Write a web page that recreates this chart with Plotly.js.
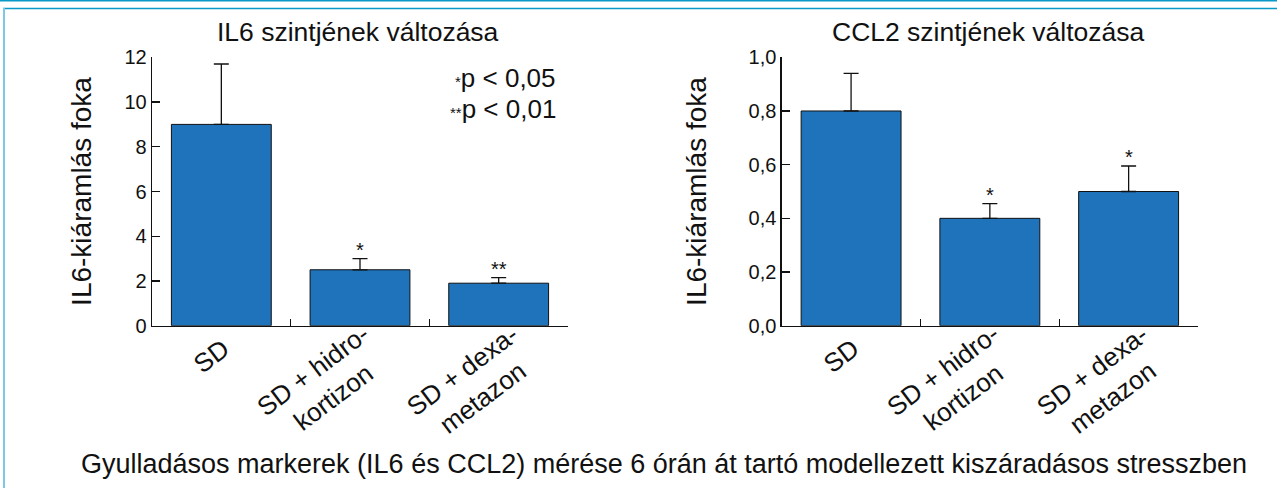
<!DOCTYPE html>
<html>
<head>
<meta charset="utf-8">
<script src="https://cdn.plot.ly/plotly-3.0.1.min.js"></script>
<style>
  html, body { margin: 0; padding: 0; background: #ffffff; }
  #chart { width: 1277px; height: 488px; }
</style>
</head>
<body>
<div id="chart"></div>
<script>
// ---- data ----
const categories = ["SD", "SD + hidro-<br>kortizon", "SD + dexa-<br>metazon"];
const il6Values = [9.0, 2.5, 1.9];
const il6Errors = [2.7, 0.5, 0.25];
const il6Signif = ["", "*", "**"];
const ccl2Values = [0.80, 0.40, 0.50];
const ccl2Errors = [0.14, 0.055, 0.095];
const ccl2Signif = ["", "*", "*"];
const il6Ticks = [0, 2, 4, 6, 8, 10, 12];
const ccl2Ticks = [0, 0.2, 0.4, 0.6, 0.8, 1.0];
const panelTitles = ["IL6 szintjének változása", "CCL2 szintjének változása"];
const yTitle = "IL6-kiáramlás foka";
const footerText = "Gyulladásos markerek (IL6 és CCL2) mérése 6 órán át tartó modellezett kiszáradásos stresszben";
const legendMarks = ["*", "**"];
const legendTexts = ["p < 0,05", "p < 0,01"];

// ---- styling ----
const W = 1277, H = 488;
const FONT = "'Liberation Sans Narrow', 'Liberation Sans', Arial, sans-serif";
const FONT_REG = "'Liberation Sans', Arial, sans-serif";
const BAR_COLOR = "#1f73bb";
const INK = "#111111";
const px = v => v / W;
const py = v => 1 - v / H;

const catIdx = [0, 1, 2];

function barTrace(vals, errs, xa, ya) {
  return {
    type: "bar",
    x: catIdx, y: vals,
    xaxis: xa, yaxis: ya,
    marker: { color: BAR_COLOR, line: { color: INK, width: 1 } },
    error_y: { type: "data", array: errs, arrayminus: errs.map(() => 0), symmetric: false,
               color: INK, thickness: 1.3, width: 7.5 },
    hoverinfo: "skip",
    showlegend: false
  };
}

const data = [
  barTrace(il6Values, il6Errors, "x", "y"),
  barTrace(ccl2Values, ccl2Errors, "x2", "y2")
];

const yDomain = [py(325.7), py(57.3)];

function xAxis(dom, anchor) {
  return {
    domain: dom, range: [-0.5, 2.5], type: "linear", anchor: anchor,
    showgrid: false, zeroline: false, showline: true, linecolor: INK, linewidth: 1.3,
    tickmode: "array", tickvals: [-0.5, 0.5, 1.5, 2.5], ticks: "inside", ticklen: 7,
    tickcolor: INK, tickwidth: 1.3, showticklabels: false, fixedrange: true
  };
}
function yAxis(range, tickvals, fmt, anchor, standoff) {
  return {
    domain: yDomain, range: range, anchor: anchor,
    showgrid: false, zeroline: false, showline: true, linecolor: INK, linewidth: 1.3,
    tickmode: "array", tickvals: tickvals, tickformat: fmt,
    ticks: "inside", ticklen: 8, tickcolor: INK, tickwidth: 1.3,
    tickfont: { family: FONT_REG, size: 20, color: INK },
    title: { text: yTitle, font: { family: FONT, size: 28, color: INK }, standoff: standoff },
    automargin: false, fixedrange: true
  };
}

const annotations = [];
// category labels
const labelShift = [[-10, -30], [-37, -58], [-26, -58]];
["x", "x2"].forEach(xa => {
  categories.forEach((c, i) => {
    annotations.push({
      xref: xa, yref: "paper", x: catIdx[i], y: yDomain[0],
      text: c, showarrow: false, textangle: -37,
      xanchor: "center", yanchor: "middle", align: "center",
      xshift: labelShift[i][0], yshift: labelShift[i][1],
      font: { family: FONT, size: 26, color: INK }
    });
  });
});
// significance markers
[[il6Values, il6Errors, il6Signif, "x", "y"], [ccl2Values, ccl2Errors, ccl2Signif, "x2", "y2"]].forEach(([v, e, s, xa, ya]) => {
  s.forEach((t, i) => {
    if (!t) return;
    annotations.push({
      xref: xa, yref: ya, x: catIdx[i], y: v[i] + e[i], text: t, showarrow: false,
      yanchor: "middle", yshift: 9,
      font: { family: FONT_REG, size: 20, color: INK }
    });
  });
});
// panel titles
const titleX = [358, 988];
panelTitles.forEach((t, i) => {
  annotations.push({ xref: "paper", yref: "paper", x: px(titleX[i]), y: py(32), text: t,
    showarrow: false, xanchor: "center", yanchor: "middle",
    font: { family: FONT, size: 26.5, color: INK } });
});
// p-value legend
const legendY = [78, 109];
legendTexts.forEach((t, i) => {
  annotations.push({ xref: "paper", yref: "paper", x: px(558), y: py(legendY[i]),
    text: '<span style="font-size:15px">' + legendMarks[i] + '</span>' + t,
    showarrow: false, xanchor: "right", yanchor: "middle", align: "right",
    font: { family: FONT_REG, size: 26, color: INK } });
});
// footer
annotations.push({ xref: "paper", yref: "paper", x: px(663.5), y: py(464), text: footerText,
  showarrow: false, xanchor: "center", yanchor: "middle",
  font: { family: FONT_REG, size: 27, color: INK } });

const shapes = [
  { type: "line", xref: "paper", yref: "paper", x0: 0, x1: 1, y0: py(0.7), y1: py(0.7),
    line: { color: "#0a98c8", width: 1.5 } },
  { type: "line", xref: "paper", yref: "paper", x0: px(3), x1: 1, y0: py(8.5), y1: py(8.5),
    line: { color: "#0a98c8", width: 1.5 } },
  { type: "line", xref: "paper", yref: "paper", x0: px(4), x1: px(4), y0: py(8), y1: 0,
    line: { color: "#7cc8e6", width: 2 } }
];

const layout = {
  width: W, height: H,
  margin: { l: 0, r: 0, t: 0, b: 0 },
  paper_bgcolor: "#ffffff", plot_bgcolor: "#ffffff",
  separators: ", ",
  bargap: 0.28,
  showlegend: false,
  xaxis: xAxis([px(152), px(568)], "y"),
  yaxis: yAxis([0, 12], il6Ticks, "d", "x", 24),
  xaxis2: xAxis([px(781.7), px(1198)], "y2"),
  yaxis2: yAxis([0, 1], ccl2Ticks, ".1f", "x2", 33),
  annotations: annotations,
  shapes: shapes,
  font: { family: FONT_REG, color: INK }
};

Plotly.newPlot("chart", data, layout, { staticPlot: true, displayModeBar: false });
</script>
</body>
</html>
